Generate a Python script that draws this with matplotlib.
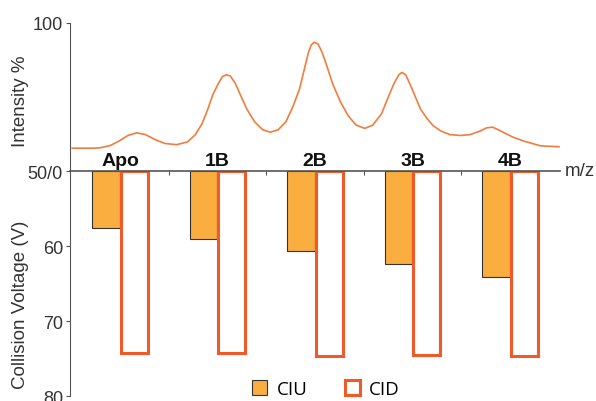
import matplotlib.pyplot as plt
import numpy as np
from matplotlib.patches import Patch

plt.rcParams['font.family'] = ['Liberation Sans', 'DejaVu Sans']

# bar data (collision voltage, V)
groups = ["Apo", "1B", "2B", "3B", "4B"]
ciu = [57.6, 59.1, 60.7, 62.4, 64.1]
cid = [74.3, 74.3, 74.7, 74.5, 74.7]

# mass spectrum trace (x in group units, intensity %)
mz = [-0.49, -0.31, -0.21, -0.10, 0.00, 0.08, 0.17, 0.26, 0.36, 0.46,
      0.58, 0.69, 0.77, 0.84, 0.90, 0.95, 1.01, 1.05, 1.09, 1.13,
      1.18, 1.23, 1.30, 1.38, 1.46, 1.54, 1.62, 1.70, 1.77, 1.84,
      1.89, 1.93, 1.96, 1.99, 2.03, 2.07, 2.12, 2.18, 2.26, 2.34,
      2.42, 2.51, 2.59, 2.68, 2.75, 2.81, 2.86, 2.89, 2.93, 2.99,
      3.08, 3.15, 3.21, 3.29, 3.38, 3.49, 3.59, 3.69, 3.76, 3.82,
      3.88, 3.95, 4.03, 4.15, 4.31, 4.50]
intensity = [57.7, 57.7, 57.8, 58.6, 60.3, 62.0, 62.9, 62.3, 60.6, 59.3,
             58.9, 59.8, 62.2, 65.9, 70.9, 75.7, 79.7, 81.9, 82.5, 82.1,
             79.7, 76.0, 70.9, 66.6, 64.0, 63.1, 63.9, 66.6, 71.6, 77.7,
             84.5, 89.9, 92.6, 93.5, 92.9, 90.2, 85.5, 79.4, 73.3, 68.6,
             65.5, 64.4, 65.5, 69.3, 75.0, 79.7, 82.6, 83.3, 82.4, 78.0,
             70.9, 67.6, 65.3, 63.5, 62.3, 62.0, 62.3, 63.5, 64.6, 64.8,
             63.9, 62.7, 61.4, 60.0, 58.5, 58.2]

ciu_color = "#F9AE3F"
cid_color = "#EF5A28"
line_color = "#F07D3E"
spine_color = "#555555"
text_color = "#333333"

fig = plt.figure(figsize=(5.96, 4.02), dpi=100)
left, width = 70 / 596, 490 / 596
ax_top = fig.add_axes([left, 230 / 402, width, 148 / 402])
ax_bot = fig.add_axes([left, 5 / 402, width, 225 / 402])

xlim = (-0.513, 4.51)

# --- top: spectrum
ax_top.plot(mz, intensity, color=line_color, lw=1.2, solid_joinstyle="round")
ax_top.set_xlim(*xlim)
ax_top.set_ylim(50, 100)
for s in ["top", "right", "bottom"]:
    ax_top.spines[s].set_visible(False)
ax_top.spines["left"].set_color(spine_color)
ax_top.set_xticks([])
ax_top.set_yticks([100])
ax_top.tick_params(axis="y", length=3, color=spine_color, labelsize=13, pad=2,
                   labelcolor=text_color)
for i, g in enumerate(groups):
    ax_top.text(i, 50.6, g, ha="center", va="bottom", fontsize=14,
                fontweight="bold", color="#111111")

# --- bottom: collision voltages
x = np.arange(len(groups))
w = 0.28
ax_bot.bar(x - 0.145, np.array(ciu) - 50, bottom=50, width=w,
           color=ciu_color, edgecolor="#333333", linewidth=0.8)
ax_bot.bar(x + 0.145, np.array(cid) - 50, bottom=50, width=w,
           color="white", edgecolor=cid_color, linewidth=2.2)
ax_bot.set_xlim(*xlim)
ax_bot.set_ylim(80, 50)
ax_bot.spines["right"].set_visible(False)
ax_bot.spines["bottom"].set_visible(False)
ax_bot.spines["left"].set_color(spine_color)
ax_bot.spines["top"].set_color(spine_color)
ax_bot.spines["top"].set_linewidth(1.2)
ax_bot.set_yticks([50, 60, 70, 80])
ax_bot.set_yticklabels(["50/0", "60", "70", "80"])
ax_bot.tick_params(axis="y", length=3, color=spine_color, labelsize=13, pad=2,
                   labelcolor=text_color)
ax_bot.xaxis.tick_top()
ax_bot.set_xticks([0.5, 1.5, 2.5, 3.5])
ax_bot.set_xticklabels([])
ax_bot.tick_params(axis="x", direction="in", length=3, color=spine_color)
ax_bot.text(1.01, 1.0, "m/z", transform=ax_bot.transAxes, ha="left",
            va="center", fontsize=13.5, color=text_color)

# axis titles placed like in the original figure
fig.text(21 / 596, 1 - 101 / 402, "Intensity %", rotation=90, ha="center",
         va="center", fontsize=13.5, color=text_color)
fig.text(21 / 596, 1 - 305 / 402, "Collision Voltage (V)", rotation=90,
         ha="center", va="center", fontsize=13.5, color=text_color)

handles = [Patch(facecolor=ciu_color, edgecolor="#333333", linewidth=0.8, label="CIU"),
           Patch(facecolor="white", edgecolor=cid_color, linewidth=2.2, label="CID")]
fig.legend(handles=handles, loc="center", bbox_to_anchor=(0.547, 0.03), ncol=2,
           frameon=False, handlelength=0.8, handleheight=0.8, handletextpad=0.5,
           columnspacing=2.0, prop={"family": "Open Sans", "size": 13.5})

fig.savefig("out.png", dpi=100)
